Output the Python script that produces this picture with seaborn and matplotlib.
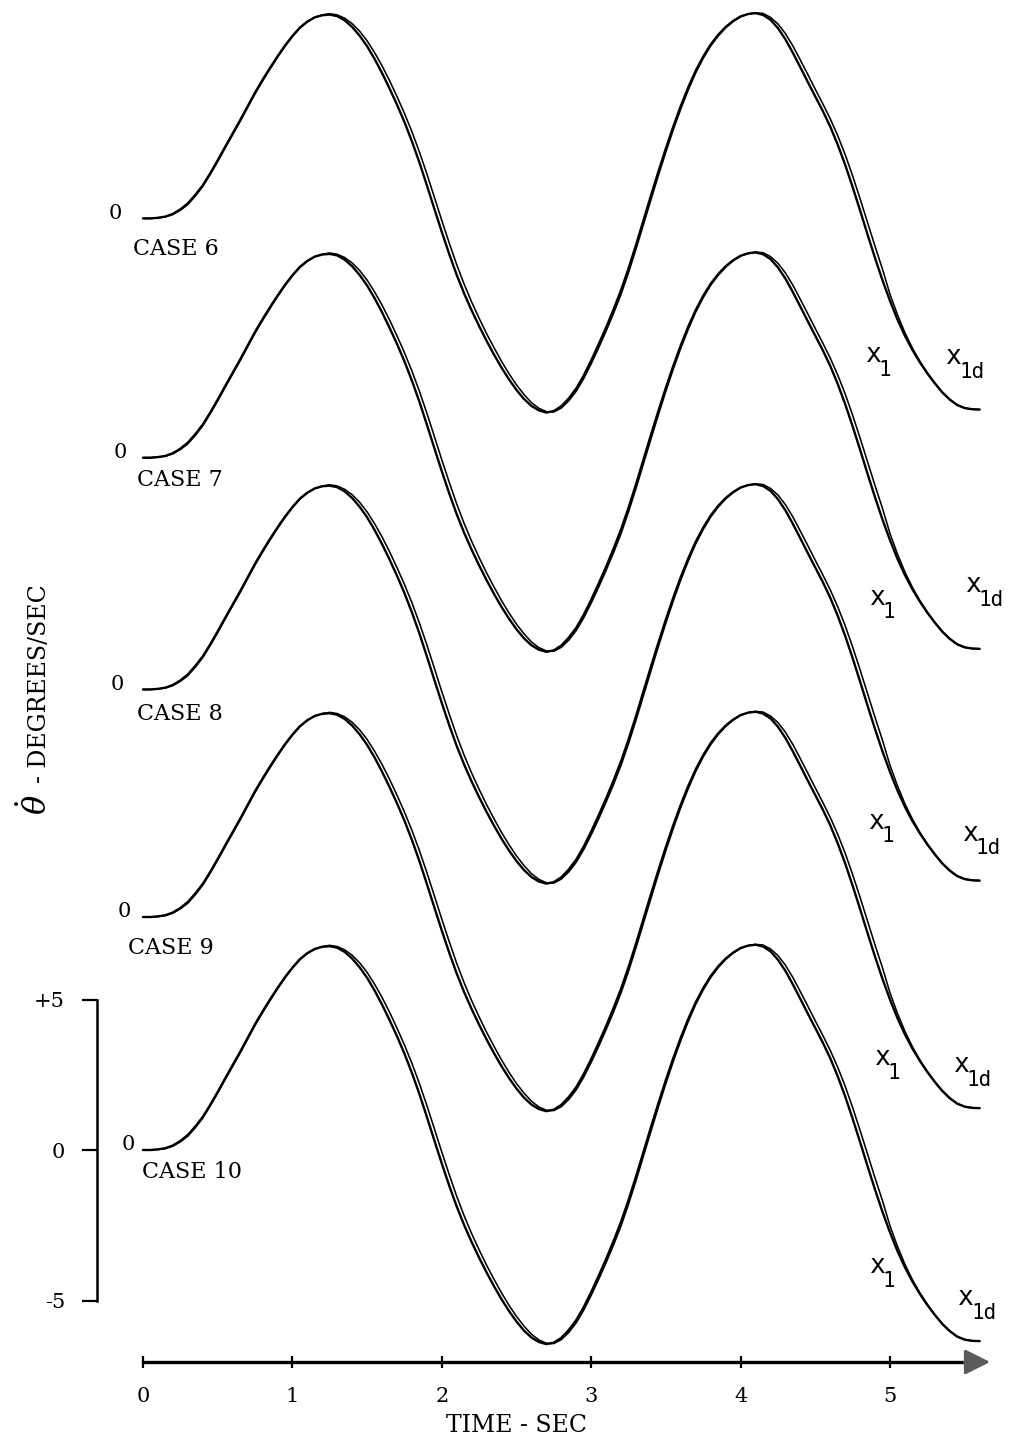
import numpy as np
import pandas as pd
import matplotlib
matplotlib.use("Agg")
import matplotlib.pyplot as plt
import seaborn as sns

# ---------------- data ----------------
time_s = [0.00, 0.05, 0.10, 0.15, 0.20, 0.25, 0.30, 0.35, 0.40, 0.45,
          0.50, 0.55, 0.60, 0.65, 0.70, 0.75, 0.80, 0.85, 0.90, 0.95,
          1.00, 1.05, 1.10, 1.15, 1.20, 1.25, 1.30, 1.35, 1.40, 1.45,
          1.50, 1.55, 1.60, 1.65, 1.70, 1.75, 1.80, 1.85, 1.90, 1.95,
          2.00, 2.05, 2.10, 2.15, 2.20, 2.25, 2.30, 2.35, 2.40, 2.45,
          2.50, 2.55, 2.60, 2.65, 2.70, 2.75, 2.80, 2.85, 2.90, 2.95,
          3.00, 3.05, 3.10, 3.15, 3.20, 3.25, 3.30, 3.35, 3.40, 3.45,
          3.50, 3.55, 3.60, 3.65, 3.70, 3.75, 3.80, 3.85, 3.90, 3.95,
          4.00, 4.05, 4.10, 4.15, 4.20, 4.25, 4.30, 4.35, 4.40, 4.45,
          4.50, 4.55, 4.60, 4.65, 4.70, 4.75, 4.80, 4.85, 4.90, 4.95,
          5.00, 5.05, 5.10, 5.15, 5.20, 5.25, 5.30, 5.35, 5.40, 5.45,
          5.50, 5.55, 5.60]

# actual body rate x1 (deg/s)
x1_rate = [0.00, 0.00, 0.02, 0.06, 0.15, 0.30, 0.50, 0.78, 1.10, 1.50,
           1.93, 2.38, 2.82, 3.26, 3.72, 4.18, 4.60, 5.00, 5.38, 5.74,
           6.06, 6.34, 6.54, 6.68, 6.75, 6.77, 6.72, 6.58, 6.36, 6.07,
           5.72, 5.30, 4.83, 4.32, 3.78, 3.20, 2.56, 1.86, 1.10, 0.32,
           -0.45, -1.19, -1.88, -2.50, -3.06, -3.58, -4.07, -4.53, -4.96, -5.35,
           -5.70, -6.00, -6.23, -6.38, -6.45, -6.40, -6.24, -5.98, -5.65, -5.22,
           -4.72, -4.18, -3.62, -3.02, -2.38, -1.66, -0.88, -0.06, 0.76, 1.56,
           2.33, 3.06, 3.74, 4.36, 4.91, 5.38, 5.78, 6.10, 6.36, 6.56,
           6.71, 6.79, 6.82, 6.76, 6.60, 6.32, 5.95, 5.50, 5.02, 4.53,
           4.05, 3.57, 3.05, 2.45, 1.78, 1.04, 0.26, -0.54, -1.32, -2.06,
           -2.74, -3.36, -3.90, -4.37, -4.78, -5.15, -5.48, -5.78, -6.02, -6.20,
           -6.30, -6.34, -6.35]

# desired rate x1d (deg/s)
x1d_rate = [0.00, 0.00, 0.02, 0.05, 0.13, 0.27, 0.46, 0.74, 1.06, 1.46,
            1.89, 2.34, 2.78, 3.22, 3.68, 4.14, 4.56, 4.96, 5.35, 5.71,
            6.04, 6.32, 6.53, 6.68, 6.76, 6.80, 6.76, 6.65, 6.47, 6.22,
            5.90, 5.51, 5.07, 4.58, 4.05, 3.49, 2.88, 2.21, 1.48, 0.71,
            -0.07, -0.82, -1.54, -2.19, -2.78, -3.32, -3.83, -4.30, -4.75, -5.16,
            -5.53, -5.85, -6.12, -6.31, -6.42, -6.43, -6.30, -6.06, -5.74, -5.32,
            -4.83, -4.30, -3.74, -3.15, -2.52, -1.80, -1.02, -0.20, 0.62, 1.43,
            2.21, 2.95, 3.64, 4.27, 4.84, 5.32, 5.73, 6.06, 6.33, 6.54,
            6.70, 6.79, 6.83, 6.81, 6.68, 6.46, 6.14, 5.73, 5.26, 4.78,
            4.29, 3.81, 3.31, 2.75, 2.12, 1.41, 0.65, -0.14, -0.93, -1.69,
            -2.52, -3.20, -3.80, -4.31, -4.75, -5.13, -5.47, -5.77, -6.01, -6.20,
            -6.30, -6.34, -6.35]

cases = ["CASE 6", "CASE 7", "CASE 8", "CASE 9", "CASE 10"]
case_offsets = [30.95, 23.0, 15.3, 7.74, 0.0]   # vertical stacking of the traces

x_ticks = [0, 1, 2, 3, 4, 5]
x_tick_labels = ["0", "1", "2", "3", "4", "5"]
y_ticks = [-5, 0, 5]
y_tick_labels = ["-5", "0", "+5"]

# ---------------- layout (annotation placement, not data) ----------------
zero_label_x = [-0.14, -0.107, -0.127, -0.08, -0.054]
case_label_x = [-0.067, -0.040, -0.040, -0.100, -0.007]
case_label_dy = [-1.0, -0.73, -0.8, -1.03, -0.73]
x1_label_pos = [(4.83, -4.78), (4.86, -4.88), (4.85, -4.62), (4.89, -4.92), (4.86, -4.09)]
x1d_label_pos = [(5.37, -4.85), (5.50, -4.45), (5.48, -5.02), (5.42, -5.15), (5.45, -5.15)]

# ---------------- figure ----------------
sns.set_style("white")
plt.rcParams["font.family"] = ["DejaVu Serif", "DejaVu Sans"]
plt.rcParams["text.color"] = "black"
plt.rcParams["xtick.color"] = "black"
plt.rcParams["ytick.color"] = "black"
plt.rcParams["lines.solid_joinstyle"] = "round"
plt.rcParams["lines.solid_capstyle"] = "round"

W, H = 1009, 1443
fig = plt.figure(figsize=(W / 100, H / 100), dpi=100)
ax = fig.add_axes([0, 0, 1, 1])
ax.patch.set_alpha(0)

px_per_s = 149.4
px_per_u = 30.1
x0_px, y0_px = 143, 1150
ax.set_xlim(-x0_px / px_per_s, (W - x0_px) / px_per_s)
ax.set_ylim(-(H - y0_px) / px_per_u, y0_px / px_per_u)

# long-form frame
rows = []
for case, off in zip(cases, case_offsets):
    for series, vals in (("x1", x1_rate), ("x1d", x1d_rate)):
        for t, v in zip(time_s, vals):
            rows.append({"case": case, "series": series, "time": t, "rate": v + off})
df = pd.DataFrame(rows)

for case in cases:
    sub = df[df["case"] == case]
    sns.lineplot(data=sub[sub["series"] == "x1"], x="time", y="rate", ax=ax,
                 color="black", lw=1.7, estimator=None, sort=False, legend=False)
    sns.lineplot(data=sub[sub["series"] == "x1d"], x="time", y="rate", ax=ax,
                 color="black", lw=1.15, estimator=None, sort=False, legend=False)

ax.set_xlabel("")
ax.set_ylabel("")

# annotations per case
for i, (case, off) in enumerate(zip(cases, case_offsets)):
    ax.text(zero_label_x[i], off + 0.17, "0", ha="right", va="center", fontsize=15)
    ax.text(case_label_x[i], off + case_label_dy[i], case, ha="left", va="center", fontsize=16)
    for (tx, ty), subs in ((x1_label_pos[i], "1"), (x1d_label_pos[i], "1d")):
        ax.text(tx, off + ty, "x", ha="left", va="baseline", fontsize=19,
                family="DejaVu Sans Mono")
        ax.annotate(subs, xy=(tx, off + ty), xytext=(10, -10), textcoords="offset points",
                    ha="left", va="baseline", fontsize=15, family="DejaVu Sans Mono")

# axes styling
for s in ("top", "right"):
    ax.spines[s].set_visible(False)
ax.spines["left"].set_position(("data", (97 - x0_px) / px_per_s))
ax.spines["left"].set_bounds(-5, 5)
ax.spines["left"].set_linewidth(1.8)
ax.spines["left"].set_color("black")
ybot = -(1362 - y0_px) / px_per_u
ax.spines["bottom"].set_position(("data", ybot))
ax.spines["bottom"].set_bounds(0, 5.56)
ax.spines["bottom"].set_linewidth(2.4)
ax.spines["bottom"].set_color("black")

ax.set_xticks(x_ticks)
ax.set_xticklabels(x_tick_labels)
ax.set_yticks(y_ticks)
ax.set_yticklabels(y_tick_labels)
ax.tick_params(axis="x", bottom=True, direction="inout", length=8, width=1.6,
               pad=14, labelsize=15)
ax.tick_params(axis="y", left=True, direction="out", length=11, width=1.6,
               pad=12, labelsize=15)

ax.annotate("", xy=(5.67, ybot), xytext=(5.50, ybot),
            arrowprops=dict(arrowstyle="-|>,head_length=0.9,head_width=0.45",
                            color="#5a5a5a", lw=2.2, shrinkA=0, shrinkB=0,
                            mutation_scale=17),
            annotation_clip=False)

ax.text(2.5, -(1425 - y0_px) / px_per_u, "TIME - SEC", ha="center", va="center", fontsize=17)

# y-axis title
ax.text((36 - x0_px) / px_per_s, (y0_px - 805) / px_per_u, r"$\dot{\theta}$",
        rotation=90, ha="center", va="center", fontsize=23, math_fontfamily="dejavuserif")
ax.text((40 - x0_px) / px_per_s, (y0_px - 684) / px_per_u, "- DEGREES/SEC",
        rotation=90, ha="center", va="center", fontsize=17)

fig.savefig("out.png", dpi=100)
